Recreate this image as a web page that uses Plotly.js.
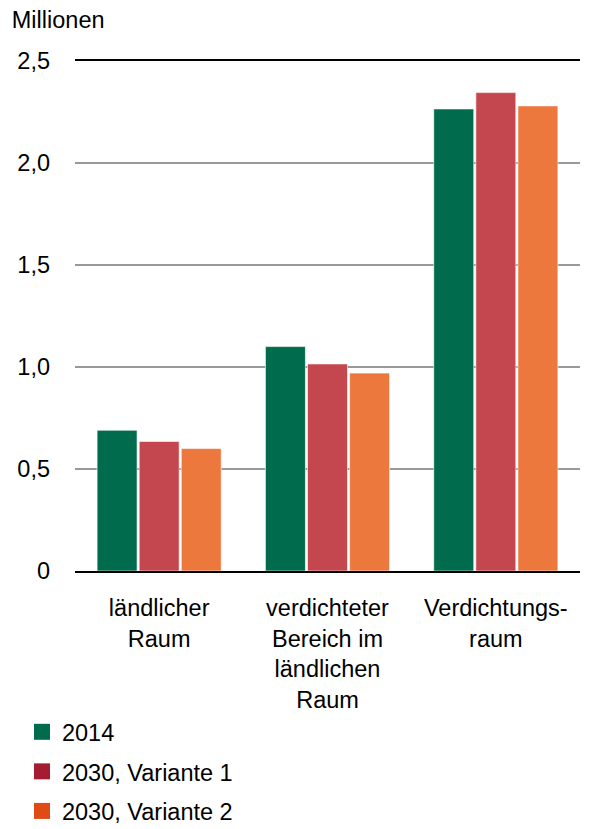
<!DOCTYPE html>
<html>
<head>
<meta charset="utf-8">
<script src="https://cdn.plot.ly/plotly-3.0.1.min.js"></script>
<style>
  body { margin: 0; padding: 0; background: #fff; }
  #plot { width: 590px; height: 829px; }
</style>
</head>
<body>
<div id="plot"></div>
<script>
// Kategorien und Werte (Millionen)
var categories = ["ländlicher<br>Raum", "verdichteter<br>Bereich im<br>ländlichen<br>Raum", "Verdichtungs-<br>raum"];
var seriesNames = ["2014", "2030, Variante 1", "2030, Variante 2"];
var values2014 = [0.69, 1.10, 2.265];
var valuesV1 = [0.635, 1.015, 2.345];
var valuesV2 = [0.60, 0.97, 2.28];
var tickVals = [0, 0.5, 1, 1.5, 2, 2.5];
var tickText = ["0", "0,5", "1,0", "1,5", "2,0", "2,5"];

var barColors = ['#006b4d', '#c4474f', '#ec783e'];
var legendColors = ['#006b4d', '#a51c30', '#e04a14'];
var allValues = [values2014, valuesV1, valuesV2];

var data = [];
allValues.forEach(function (vals, i) {
  data.push({
    x: categories,
    y: vals,
    name: seriesNames[i],
    type: "bar",
    showlegend: false,
    hoverinfo: "y",
    marker: { color: barColors[i], line: { color: 'rgba(255,255,255,0.6)', width: 1 } }
  });
});
// legend entries (legend colors are a bit darker than the bars)
seriesNames.forEach(function (n, i) {
  data.push({
    x: [null],
    y: [null],
    name: n,
    legendgroup: 'g' + i,
    type: "scatter",
    mode: "markers",
    marker: { symbol: "square", size: 18, color: legendColors[i] }
  });
});

var fs = 23.5;

var layout = {
  width: 590,
  height: 829,
  paper_bgcolor: 'white',
  plot_bgcolor: 'white',
  font: { family: 'Liberation Sans, Arial, sans-serif', size: fs, color: '#000' },
  margin: { l: 75, r: 10, t: 61, b: 258 },
  barmode: "group",
  bargap: 0.25,
  bargroupgap: 0.05,
  title: {
    text: "Millionen",
    x: 0.02, xanchor: 'left', xref: 'container',
    y: 0.976, yanchor: 'middle', yref: 'container',
    font: { size: fs, color: '#000' }
  },
  xaxis: {
    automargin: false,
    tickangle: 0,
    showline: true,
    mirror: true,
    linecolor: '#000',
    linewidth: 2,
    ticks: '',
    ticklabelstandoff: 15,
    tickfont: { size: fs }
  },
  yaxis: {
    automargin: false,
    range: [0, 2.5],
    tickvals: tickVals,
    ticktext: tickText,
    showgrid: true,
    gridcolor: '#999',
    gridwidth: 2,
    zeroline: false,
    showline: false,
    ticks: '',
    ticklabelstandoff: 24,
    tickfont: { size: fs }
  },
  legend: {
    xref: 'paper', yref: 'container',
    x: -0.105, xanchor: 'left',
    y: 0.1435, yanchor: 'top',
    orientation: 'v',
    tracegroupgap: 6,
    font: { size: fs },
    itemwidth: 30
  }
};

Plotly.newPlot("plot", data, layout, { displayModeBar: false });
</script>
</body>
</html>
